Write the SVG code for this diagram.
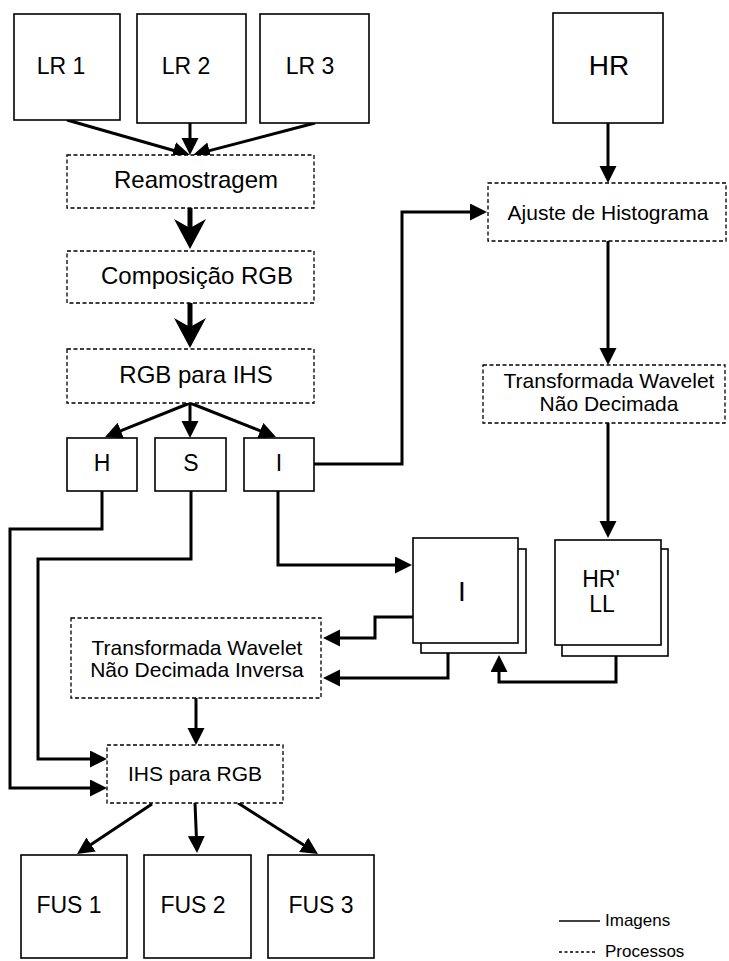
<svg xmlns="http://www.w3.org/2000/svg" width="729" height="961" viewBox="0 0 729 961">
<style>
  text { font-family: "Liberation Sans", Arial, Helvetica, sans-serif; fill: #000; text-anchor: middle; }
  .img { fill: #fff; stroke: #000; stroke-width: 1.6; }
  .proc { fill: #fff; stroke: #000; stroke-width: 1.3; stroke-dasharray: 4 2.5; }
  .c { fill: none; stroke: #000; stroke-width: 3; stroke-linejoin: miter; }
  .ct { fill: none; stroke: #000; stroke-width: 5; }
  .t24 { font-size: 24px; }
  .t23 { font-size: 23px; }
  .t21 { font-size: 21px; }
  .leg { font-size: 17px; text-anchor: start; }
</style>
<defs>
  <marker id="arr" markerUnits="userSpaceOnUse" markerWidth="18" markerHeight="18" refX="1" refY="8.5" orient="auto">
    <path d="M0,0 L17,8.5 L0,17 z" fill="#000"/>
  </marker>
  <marker id="big" markerUnits="userSpaceOnUse" markerWidth="32" markerHeight="34" refX="10" refY="16" orient="auto">
    <path d="M0,0 L30,16 L0,32 L9,16 z" fill="#000"/>
  </marker>
</defs>

<g id="connectors">
  <path class="c" d="M67,120 L174.6,150.7" marker-end="url(#arr)"/>
  <path class="c" d="M190,123 V139" marker-end="url(#arr)"/>
  <path class="c" d="M315,123 L208.5,150.9" marker-end="url(#arr)"/>
  <path class="ct" d="M190,208 V229" marker-end="url(#big)"/>
  <path class="ct" d="M190,303 V328" marker-end="url(#big)"/>
  <path class="c" d="M190,403 L119.9,431.1" marker-end="url(#arr)"/>
  <path class="c" d="M190,403 V422" marker-end="url(#arr)"/>
  <path class="c" d="M190,403 L261.1,431.1" marker-end="url(#arr)"/>
  <path class="c" d="M314,464 H402 V212 H471" marker-end="url(#arr)"/>
  <path class="c" d="M608,123 V167" marker-end="url(#arr)"/>
  <path class="c" d="M608,241 V349" marker-end="url(#arr)"/>
  <path class="c" d="M608,423 V522" marker-end="url(#arr)"/>
  <path class="c" d="M278,491 V565 H396" marker-end="url(#arr)"/>
  <path class="c" d="M413,617 H375 V638 H339" marker-end="url(#arr)"/>
  <path class="c" d="M448,653 V678 H339" marker-end="url(#arr)"/>
  <path class="c" d="M616,656 V682 H499 V671" marker-end="url(#arr)"/>
  <path class="c" d="M196,698 V729" marker-end="url(#arr)"/>
  <path class="c" d="M102,491 V529 H10 V788 H91" marker-end="url(#arr)"/>
  <path class="c" d="M191,491 V559 H38 V759 H91" marker-end="url(#arr)"/>
  <path class="c" d="M152,804 L90.3,845.1" marker-end="url(#arr)"/>
  <path class="c" d="M195,803 L196.4,837" marker-end="url(#arr)"/>
  <path class="c" d="M238,803 L304.5,845.4" marker-end="url(#arr)"/>
</g>

<g id="lr1"><rect class="img" x="14" y="14" width="106" height="106"/><text class="t23" x="61" y="74">LR 1</text></g>
<g id="lr2"><rect class="img" x="137" y="14" width="109" height="109"/><text class="t23" x="186" y="74">LR 2</text></g>
<g id="lr3"><rect class="img" x="260" y="14" width="109" height="109"/><text class="t23" x="310" y="74">LR 3</text></g>
<g id="hr"><rect class="img" x="553" y="13" width="110" height="110"/><text x="609" y="75" style="font-size:28px">HR</text></g>

<g id="reamostragem"><rect class="proc" x="67" y="155" width="247" height="53"/><text class="t24" x="196" y="188">Reamostragem</text></g>
<g id="composicao"><rect class="proc" x="67" y="251" width="247" height="52"/><text class="t24" x="197" y="284">Composição RGB</text></g>
<g id="rgb2ihs"><rect class="proc" x="67" y="349" width="247" height="54"/><text class="t24" x="196" y="383">RGB para IHS</text></g>

<g id="h"><rect class="img" x="67" y="438" width="70" height="53"/><text class="t23" x="102" y="471">H</text></g>
<g id="s"><rect class="img" x="155" y="438" width="71" height="53"/><text class="t23" x="191" y="471">S</text></g>
<g id="i"><rect class="img" x="244" y="438" width="70" height="53"/><text class="t23" x="279" y="471">I</text></g>

<g id="ajuste"><rect class="proc" x="488" y="183" width="238" height="58"/><text class="t21" x="608" y="220">Ajuste de Histograma</text></g>
<g id="twnd"><rect class="proc" x="483" y="365" width="242" height="58"/><text class="t21" x="609" y="388">Transformada Wavelet</text><text class="t21" x="609" y="411">Não Decimada</text></g>

<g id="istack"><rect class="img" x="421" y="549" width="105" height="104"/><rect class="img" x="413" y="538" width="105" height="105"/><text x="462" y="601" style="font-size:28px">I</text></g>
<g id="hrll"><rect class="img" x="562" y="549" width="106" height="107"/><rect class="img" x="555" y="540" width="106" height="105"/><text class="t23" x="601" y="587">HR'</text><text class="t23" x="602" y="612">LL</text></g>

<g id="twndi"><rect class="proc" x="71" y="618" width="250" height="80"/><text class="t21" x="197" y="655">Transformada Wavelet</text><text class="t21" x="197" y="677">Não Decimada Inversa</text></g>
<g id="ihs2rgb"><rect class="proc" x="107" y="745" width="176" height="58"/><text class="t21" x="195" y="781">IHS para RGB</text></g>

<g id="fus1"><rect class="img" x="21" y="855" width="106" height="103"/><text class="t23" x="69" y="913">FUS 1</text></g>
<g id="fus2"><rect class="img" x="144" y="855" width="107" height="103"/><text class="t23" x="193" y="913">FUS 2</text></g>
<g id="fus3"><rect class="img" x="268" y="855" width="106" height="103"/><text class="t23" x="321" y="913">FUS 3</text></g>

<g id="legend">
  <line x1="559" y1="921" x2="600" y2="921" stroke="#000" stroke-width="1.3"/>
  <text class="leg" x="605" y="926">Imagens</text>
  <line x1="559" y1="952" x2="597" y2="952" stroke="#000" stroke-width="1.3" stroke-dasharray="3 2.5"/>
  <text class="leg" x="605" y="957">Processos</text>
</g>
</svg>
